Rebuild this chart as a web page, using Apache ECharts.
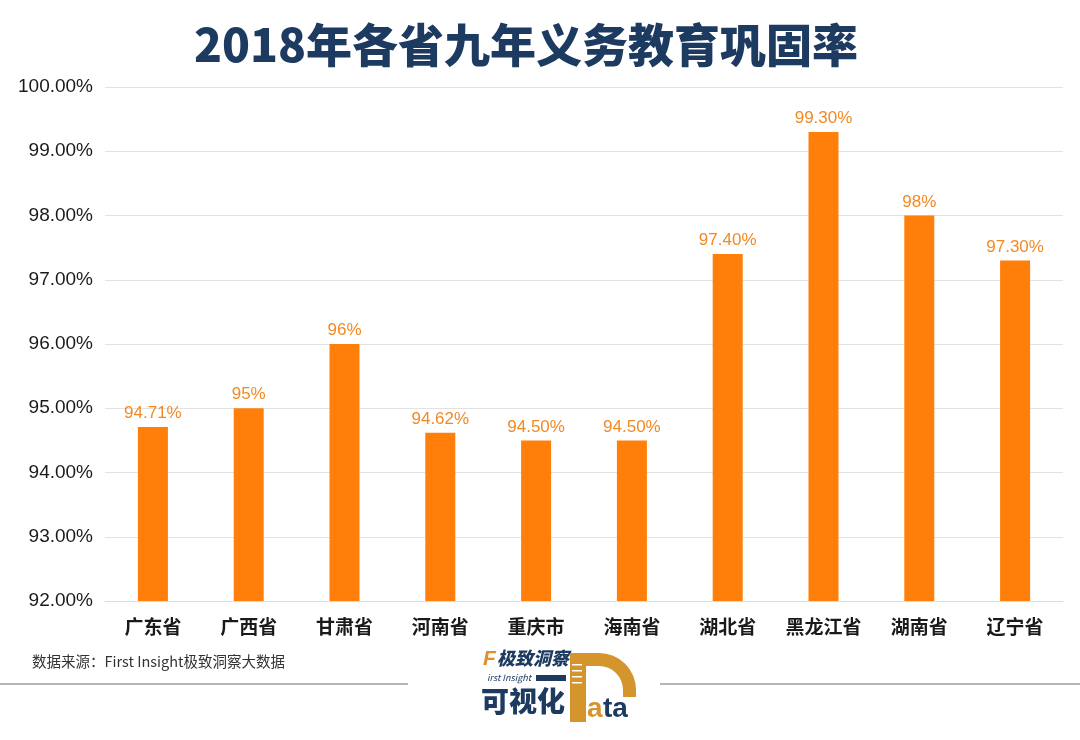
<!DOCTYPE html>
<html>
<head>
<meta charset="utf-8">
<script src="https://cdn.jsdelivr.net/npm/echarts@6/dist/echarts.min.js"></script>
<style>html,body{margin:0;padding:0;background:#fff;}#c{width:1080px;height:740px;}</style>
</head>
<body>
<div id="c"></div>
<script>
const categories = ['广东省','广西省','甘肃省','河南省','重庆市','海南省','湖北省','黑龙江省','湖南省','辽宁省'];
const values = [94.71, 95, 96, 94.62, 94.5, 94.5, 97.4, 99.3, 98, 97.3];
const valueLabels = ['94.71%','95%','96%','94.62%','94.50%','94.50%','97.40%','99.30%','98%','97.30%'];
const titleText = '2018年各省九年义务教育巩固率';
const sourceText = '数据来源：First Insight极致洞察大数据';

const chart = echarts.init(document.getElementById('c'));
const cjk = "'Noto Sans CJK SC', 'Noto Sans', sans-serif";
const gold = '#d4952c';
const navy = '#1d3a60';
chart.setOption({
  backgroundColor: '#fff',
  animation: false,
  title: {
    text: titleText,
    left: 521, top: 17, textAlign: 'center',
    textStyle: { fontFamily: "'Noto Sans CJK SC', serif", fontWeight: 900, fontSize: 46, color: navy }
  },
  grid: { left: 105, right: 17, top: 87, bottom: 139 },
  xAxis: {
    type: 'category', data: categories,
    axisLine: { lineStyle: { color: '#dcdcdc' } },
    axisTick: { show: false },
    axisLabel: { interval: 0, color: '#1a1a1a', fontSize: 19, fontWeight: 'bold', fontFamily: cjk, margin: 16 }
  },
  yAxis: {
    type: 'value', min: 92, max: 100, interval: 1,
    axisLine: { show: false }, axisTick: { show: false },
    splitLine: { lineStyle: { color: '#e2e2e2' } },
    axisLabel: { color: '#1a1a1a', fontSize: 19, fontFamily: "'Liberation Sans', Arial, sans-serif", margin: 12,
      formatter: v => v.toFixed(2) + '%' }
  },
  series: [{
    type: 'bar', data: values, barWidth: 30,
    itemStyle: { color: '#ff7f0a' },
    label: { show: true, position: 'top', distance: 5, color: '#f28a24', fontSize: 17,
      fontFamily: "'Liberation Sans', Arial, sans-serif",
      formatter: p => valueLabels[p.dataIndex] }
  }],
  graphic: [
    { type: 'text', x: 32, y: 654, style: { text: sourceText, fontSize: 14.5, fill: '#333', fontFamily: cjk } },
    { type: 'line', shape: { x1: 0, y1: 684, x2: 408, y2: 684 }, style: { stroke: '#6e6e6e', lineWidth: 1 } },
    { type: 'line', shape: { x1: 660, y1: 684, x2: 1080, y2: 684 }, style: { stroke: '#6e6e6e', lineWidth: 1 } },
    { type: 'text', x: 483, y: 649, style: { text: 'F', fontSize: 21, fontWeight: 900, fontStyle: 'italic', fill: '#e0902a', fontFamily: "'Liberation Sans', sans-serif" } },
    { type: 'text', x: 497, y: 649, style: { text: '极致洞察', fontSize: 18, fontWeight: 900, fontStyle: 'italic', fill: navy, fontFamily: cjk } },
    { type: 'text', x: 487, y: 673, style: { text: 'irst Insight', fontSize: 9, fontStyle: 'italic', fill: navy, fontFamily: cjk } },
    { type: 'rect', shape: { x: 536, y: 675, width: 30, height: 6 }, style: { fill: navy } },
    { type: 'text', x: 481, y: 687, style: { text: '可视化', fontSize: 28, fontWeight: 900, fill: navy, fontFamily: cjk } },
    { type: 'rect', shape: { x: 570, y: 653, width: 16, height: 69 }, style: { fill: gold } },
    { type: 'rect', shape: { x: 585, y: 653, width: 15, height: 13 }, style: { fill: gold } },
    { type: 'sector', shape: { cx: 599, cy: 690, r: 37, r0: 24, startAngle: -Math.PI / 2, endAngle: 0 }, style: { fill: gold } },
    { type: 'rect', shape: { x: 623, y: 689, width: 13, height: 8 }, style: { fill: gold } },
    { type: 'rect', shape: { x: 572, y: 664, width: 10, height: 1.5 }, style: { fill: '#fff' } },
    { type: 'rect', shape: { x: 572, y: 670, width: 10, height: 1.5 }, style: { fill: '#fff' } },
    { type: 'rect', shape: { x: 572, y: 676, width: 10, height: 1.5 }, style: { fill: '#fff' } },
    { type: 'rect', shape: { x: 572, y: 682, width: 10, height: 1.5 }, style: { fill: '#fff' } },
    { type: 'text', x: 587, y: 695, style: { text: 'a', fontSize: 28, fontWeight: 'bold', fill: gold, fontFamily: "'Liberation Sans', sans-serif" } },
    { type: 'text', x: 603, y: 695, style: { text: 'ta', fontSize: 28, fontWeight: 'bold', fill: navy, fontFamily: "'Liberation Sans', sans-serif" } }
  ]
});
</script>
</body>
</html>
